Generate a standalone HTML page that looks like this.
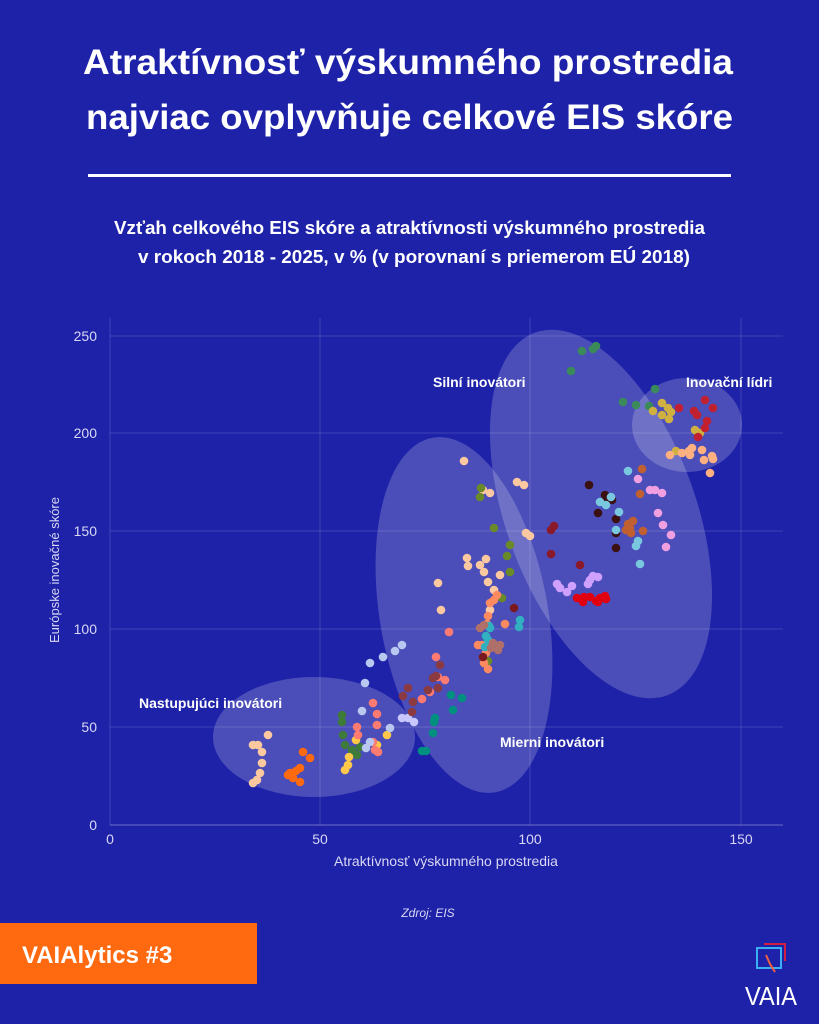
<!DOCTYPE html>
<html><head><meta charset="utf-8"><style>
html,body{margin:0;padding:0;background:#1e22a8;}
svg{display:block;}
text{font-family:"Liberation Sans Narrow","Liberation Sans",sans-serif;}
</style></head><body>
<svg width="819" height="1024" viewBox="0 0 819 1024" xmlns="http://www.w3.org/2000/svg">
<rect width="819" height="1024" fill="#1e22a8"/>
<text x="83" y="74" font-size="35" font-weight="bold" fill="#fff" textLength="650" lengthAdjust="spacingAndGlyphs">Atraktívnosť výskumného prostredia</text>
<text x="86" y="129" font-size="35" font-weight="bold" fill="#fff" textLength="647" lengthAdjust="spacingAndGlyphs">najviac ovplyvňuje celkové EIS skóre</text>
<rect x="88" y="174" width="643" height="3" fill="#fff"/>
<text x="114" y="234" font-size="18" font-weight="bold" fill="#fff" textLength="591" lengthAdjust="spacingAndGlyphs">Vzťah celkového EIS skóre a atraktívnosti výskumného prostredia</text>
<text x="138" y="263" font-size="18" font-weight="bold" fill="#fff" textLength="552" lengthAdjust="spacingAndGlyphs">v rokoch 2018 - 2025, v % (v porovnaní s priemerom EÚ 2018)</text>

<g stroke="rgba(255,255,255,0.15)" stroke-width="1">
<line x1="110" y1="318" x2="110" y2="825"/>
<line x1="320" y1="318" x2="320" y2="825"/>
<line x1="530" y1="318" x2="530" y2="825"/>
<line x1="741" y1="318" x2="741" y2="825"/>
<line x1="110" y1="336" x2="783" y2="336"/>
<line x1="110" y1="433" x2="783" y2="433"/>
<line x1="110" y1="531" x2="783" y2="531"/>
<line x1="110" y1="629" x2="783" y2="629"/>
<line x1="110" y1="727" x2="783" y2="727"/>
</g>
<line x1="110" y1="825" x2="783" y2="825" stroke="rgba(255,255,255,0.35)"/>

<g fill="#d8d8f4" font-size="14" text-anchor="end" style="font-family:'Liberation Sans',sans-serif">
<text x="97" y="341">250</text><text x="97" y="438">200</text><text x="97" y="536">150</text>
<text x="97" y="634">100</text><text x="97" y="732">50</text><text x="97" y="830">0</text>
</g>
<g fill="#d8d8f4" font-size="14" text-anchor="middle" style="font-family:'Liberation Sans',sans-serif">
<text x="110" y="844">0</text><text x="320" y="844">50</text><text x="530" y="844">100</text><text x="741" y="844">150</text>
</g>
<text x="446" y="866" font-size="14" fill="#d8d8f4" text-anchor="middle" style="font-family:'Liberation Sans',sans-serif">Atraktívnosť výskumného prostredia</text>
<text transform="translate(59,570) rotate(-90)" font-size="13" fill="#d8d8f4" text-anchor="middle" style="font-family:'Liberation Sans',sans-serif">Európske inovačné skóre</text>

<g fill="rgba(255,255,255,0.2)">
<ellipse cx="314" cy="737" rx="101" ry="60"/>
<ellipse cx="464" cy="615" rx="84" ry="180" transform="rotate(-10 464 615)"/>
<ellipse cx="601" cy="514" rx="95" ry="193" transform="rotate(-20 601 514)"/>
<ellipse cx="687" cy="425" rx="55" ry="47"/>
</g>

<g fill="#fcc8a0">
<circle cx="258" cy="745" r="4.3"/><circle cx="253" cy="745" r="4.3"/><circle cx="262" cy="752" r="4.3"/><circle cx="262" cy="763" r="4.3"/><circle cx="260" cy="773" r="4.3"/><circle cx="257" cy="780" r="4.3"/><circle cx="253" cy="783" r="4.3"/><circle cx="268" cy="735" r="4.3"/>
<circle cx="464" cy="461" r="4.3"/><circle cx="483" cy="490" r="4.3"/><circle cx="490" cy="493" r="4.3"/><circle cx="488" cy="582" r="4.3"/><circle cx="494" cy="590" r="4.3"/><circle cx="490" cy="610" r="4.3"/><circle cx="438" cy="583" r="4.3"/><circle cx="441" cy="610" r="4.3"/><circle cx="467" cy="558" r="4.3"/><circle cx="468" cy="566" r="4.3"/><circle cx="480" cy="565" r="4.3"/><circle cx="486" cy="559" r="4.3"/><circle cx="484" cy="572" r="4.3"/><circle cx="500" cy="575" r="4.3"/><circle cx="517" cy="482" r="4.3"/><circle cx="524" cy="485" r="4.3"/><circle cx="526" cy="533" r="4.3"/><circle cx="530" cy="536" r="4.3"/>
</g>
<g fill="#ff6a10">
<circle cx="303" cy="752" r="4.3"/><circle cx="310" cy="758" r="4.3"/><circle cx="290" cy="773" r="4.3"/><circle cx="296" cy="771" r="4.3"/><circle cx="300" cy="768" r="4.3"/><circle cx="293" cy="778" r="4.3"/><circle cx="300" cy="782" r="4.3"/><circle cx="288" cy="775" r="4.3"/>
</g>
<g fill="#3e7a3a">
<circle cx="342" cy="715" r="4.3"/><circle cx="342" cy="722" r="4.3"/><circle cx="343" cy="735" r="4.3"/><circle cx="345" cy="745" r="4.3"/><circle cx="352" cy="750" r="4.3"/><circle cx="360" cy="747" r="4.3"/><circle cx="357" cy="755" r="4.3"/>
</g>
<g fill="#ffc84a">
<circle cx="349" cy="757" r="4.3"/><circle cx="348" cy="765" r="4.3"/><circle cx="345" cy="770" r="4.3"/><circle cx="387" cy="735" r="4.3"/><circle cx="356" cy="740" r="4.3"/><circle cx="377" cy="745" r="4.3"/>
</g>
<g fill="#ff7a70">
<circle cx="373" cy="703" r="4.3"/><circle cx="377" cy="714" r="4.3"/><circle cx="377" cy="725" r="4.3"/><circle cx="357" cy="727" r="4.3"/><circle cx="358" cy="735" r="4.3"/><circle cx="373" cy="742" r="4.3"/><circle cx="375" cy="750" r="4.3"/><circle cx="378" cy="752" r="4.3"/>
<circle cx="436" cy="657" r="4.3"/><circle cx="422" cy="699" r="4.3"/><circle cx="430" cy="692" r="4.3"/><circle cx="445" cy="680" r="4.3"/><circle cx="438" cy="677" r="4.3"/><circle cx="449" cy="632" r="4.3"/>
</g>
<g fill="#b8c8f0">
<circle cx="365" cy="683" r="4.3"/><circle cx="362" cy="711" r="4.3"/><circle cx="370" cy="742" r="4.3"/><circle cx="390" cy="728" r="4.3"/><circle cx="366" cy="748" r="4.3"/><circle cx="370" cy="663" r="4.3"/><circle cx="383" cy="657" r="4.3"/><circle cx="395" cy="651" r="4.3"/><circle cx="402" cy="645" r="4.3"/>
</g>
<g fill="#c8c8ff">
<circle cx="402" cy="718" r="4.3"/><circle cx="408" cy="718" r="4.3"/><circle cx="414" cy="722" r="4.3"/>
</g>
<g fill="#009080">
<circle cx="422" cy="751" r="4.3"/><circle cx="426" cy="751" r="4.3"/><circle cx="434" cy="722" r="4.3"/><circle cx="435" cy="718" r="4.3"/><circle cx="433" cy="733" r="4.3"/><circle cx="451" cy="695" r="4.3"/><circle cx="462" cy="698" r="4.3"/><circle cx="453" cy="710" r="4.3"/>
</g>
<g fill="#8a3a40">
<circle cx="403" cy="696" r="4.3"/><circle cx="408" cy="688" r="4.3"/><circle cx="413" cy="702" r="4.3"/><circle cx="412" cy="712" r="4.3"/><circle cx="428" cy="690" r="4.3"/><circle cx="440" cy="665" r="4.3"/><circle cx="433" cy="678" r="4.3"/><circle cx="438" cy="688" r="4.3"/><circle cx="436" cy="676" r="4.3"/>
</g>
<g fill="#6a8a2a">
<circle cx="481" cy="488" r="4.3"/><circle cx="480" cy="497" r="4.3"/><circle cx="494" cy="528" r="4.3"/><circle cx="510" cy="545" r="4.3"/><circle cx="507" cy="556" r="4.3"/><circle cx="510" cy="572" r="4.3"/><circle cx="502" cy="598" r="4.3"/><circle cx="488" cy="661" r="4.3"/>
</g>
<g fill="#ff8a60">
<circle cx="488" cy="616" r="4.3"/><circle cx="487" cy="624" r="4.3"/><circle cx="478" cy="645" r="4.3"/><circle cx="482" cy="645" r="4.3"/><circle cx="486" cy="653" r="4.3"/><circle cx="484" cy="663" r="4.3"/><circle cx="488" cy="669" r="4.3"/><circle cx="490" cy="603" r="4.3"/><circle cx="494" cy="600" r="4.3"/><circle cx="497" cy="595" r="4.3"/><circle cx="505" cy="624" r="4.3"/>
</g>
<g fill="#30b0c0">
<circle cx="490" cy="628" r="4.3"/><circle cx="486" cy="636" r="4.3"/><circle cx="488" cy="640" r="4.3"/><circle cx="485" cy="647" r="4.3"/><circle cx="489" cy="626" r="4.3"/><circle cx="520" cy="620" r="4.3"/><circle cx="519" cy="627" r="4.3"/>
</g>
<g fill="#b0706a">
<circle cx="480" cy="628" r="4.3"/><circle cx="484" cy="625" r="4.3"/><circle cx="493" cy="643" r="4.3"/><circle cx="498" cy="650" r="4.3"/><circle cx="491" cy="648" r="4.3"/><circle cx="500" cy="645" r="4.3"/>
</g>
<g fill="#7a1a20">
<circle cx="483" cy="657" r="4.3"/><circle cx="514" cy="608" r="4.3"/>
</g>
<g fill="#3a8a5a">
<circle cx="571" cy="371" r="4.3"/><circle cx="582" cy="351" r="4.3"/><circle cx="593" cy="349" r="4.3"/><circle cx="596" cy="346" r="4.3"/><circle cx="623" cy="402" r="4.3"/><circle cx="636" cy="405" r="4.3"/><circle cx="649" cy="406" r="4.3"/><circle cx="655" cy="389" r="4.3"/>
</g>
<g fill="#8a1a2a">
<circle cx="551" cy="530" r="4.3"/><circle cx="554" cy="526" r="4.3"/><circle cx="551" cy="554" r="4.3"/><circle cx="580" cy="565" r="4.3"/>
</g>
<g fill="#3a1010">
<circle cx="589" cy="485" r="4.3"/><circle cx="605" cy="495" r="4.3"/><circle cx="607" cy="498" r="4.3"/><circle cx="612" cy="500" r="4.3"/><circle cx="598" cy="513" r="4.3"/><circle cx="616" cy="519" r="4.3"/><circle cx="616" cy="533" r="4.3"/><circle cx="616" cy="548" r="4.3"/>
</g>
<g fill="#7ac8e0">
<circle cx="628" cy="471" r="4.3"/><circle cx="600" cy="502" r="4.3"/><circle cx="606" cy="505" r="4.3"/><circle cx="611" cy="497" r="4.3"/><circle cx="619" cy="512" r="4.3"/><circle cx="616" cy="530" r="4.3"/><circle cx="640" cy="564" r="4.3"/><circle cx="638" cy="541" r="4.3"/><circle cx="636" cy="546" r="4.3"/>
</g>
<g fill="#d0a0ff">
<circle cx="557" cy="584" r="4.3"/><circle cx="560" cy="588" r="4.3"/><circle cx="567" cy="592" r="4.3"/><circle cx="572" cy="586" r="4.3"/><circle cx="590" cy="580" r="4.3"/><circle cx="588" cy="584" r="4.3"/><circle cx="593" cy="576" r="4.3"/><circle cx="598" cy="577" r="4.3"/>
</g>
<g fill="#e00010">
<circle cx="577" cy="598" r="4.3"/><circle cx="583" cy="602" r="4.3"/><circle cx="590" cy="597" r="4.3"/><circle cx="596" cy="601" r="4.3"/><circle cx="600" cy="598" r="4.3"/><circle cx="605" cy="596" r="4.3"/><circle cx="606" cy="599" r="4.3"/><circle cx="598" cy="602" r="4.3"/><circle cx="584" cy="597" r="4.3"/>
</g>
<g fill="#c06030">
<circle cx="642" cy="469" r="4.3"/><circle cx="640" cy="494" r="4.3"/><circle cx="631" cy="533" r="4.3"/><circle cx="628" cy="524" r="4.3"/><circle cx="626" cy="530" r="4.3"/><circle cx="630" cy="528" r="4.3"/><circle cx="633" cy="521" r="4.3"/><circle cx="643" cy="531" r="4.3"/>
</g>
<g fill="#f0a0e0">
<circle cx="638" cy="479" r="4.3"/><circle cx="650" cy="490" r="4.3"/><circle cx="655" cy="490" r="4.3"/><circle cx="662" cy="493" r="4.3"/><circle cx="658" cy="513" r="4.3"/><circle cx="663" cy="525" r="4.3"/><circle cx="671" cy="535" r="4.3"/><circle cx="666" cy="547" r="4.3"/>
</g>
<g fill="#d0b040">
<circle cx="662" cy="403" r="4.3"/><circle cx="653" cy="411" r="4.3"/><circle cx="662" cy="415" r="4.3"/><circle cx="668" cy="408" r="4.3"/><circle cx="669" cy="419" r="4.3"/><circle cx="671" cy="412" r="4.3"/><circle cx="695" cy="430" r="4.3"/><circle cx="700" cy="433" r="4.3"/><circle cx="698" cy="433" r="4.3"/><circle cx="676" cy="451" r="4.3"/>
</g>
<g fill="#c02030">
<circle cx="679" cy="408" r="4.3"/><circle cx="705" cy="400" r="4.3"/><circle cx="713" cy="408" r="4.3"/><circle cx="694" cy="411" r="4.3"/><circle cx="697" cy="415" r="4.3"/><circle cx="707" cy="421" r="4.3"/><circle cx="705" cy="428" r="4.3"/><circle cx="698" cy="437" r="4.3"/>
</g>
<g fill="#ffb080">
<circle cx="692" cy="448" r="4.3"/><circle cx="689" cy="451" r="4.3"/><circle cx="682" cy="453" r="4.3"/><circle cx="690" cy="455" r="4.3"/><circle cx="670" cy="455" r="4.3"/><circle cx="704" cy="460" r="4.3"/><circle cx="712" cy="456" r="4.3"/><circle cx="713" cy="459" r="4.3"/><circle cx="710" cy="473" r="4.3"/><circle cx="702" cy="450" r="4.3"/>
</g>

<g fill="#fff" font-size="14" font-weight="bold" style="font-family:'Liberation Sans',sans-serif">
<text x="433" y="387">Silní inovátori</text>
<text x="686" y="387">Inovační lídri</text>
<text x="139" y="708">Nastupujúci inovátori</text>
<text x="500" y="747">Mierni inovátori</text>
</g>

<text x="428" y="917" font-size="12" font-style="italic" fill="#d8d8f4" text-anchor="middle" style="font-family:'Liberation Sans',sans-serif">Zdroj: EIS</text>

<rect x="0" y="923" width="257" height="61" fill="#ff6a10"/>
<text x="22" y="963" font-size="24" font-weight="bold" fill="#fff" style="font-family:'Liberation Sans',sans-serif">VAIAlytics #3</text>

<g fill="none" stroke-width="2">
<path d="M764 944 H785 V961" stroke="#d02040"/>
<rect x="757" y="948" width="24" height="20" stroke="#3ab0f0"/>
<path d="M766 955 L770 964 L775 972" stroke="#f06040"/>
</g>
<text x="771" y="1005" font-size="26" fill="#fff" text-anchor="middle" style="font-family:'Liberation Sans',sans-serif" textLength="52" lengthAdjust="spacingAndGlyphs">VAIA</text>
</svg>
</body></html>
